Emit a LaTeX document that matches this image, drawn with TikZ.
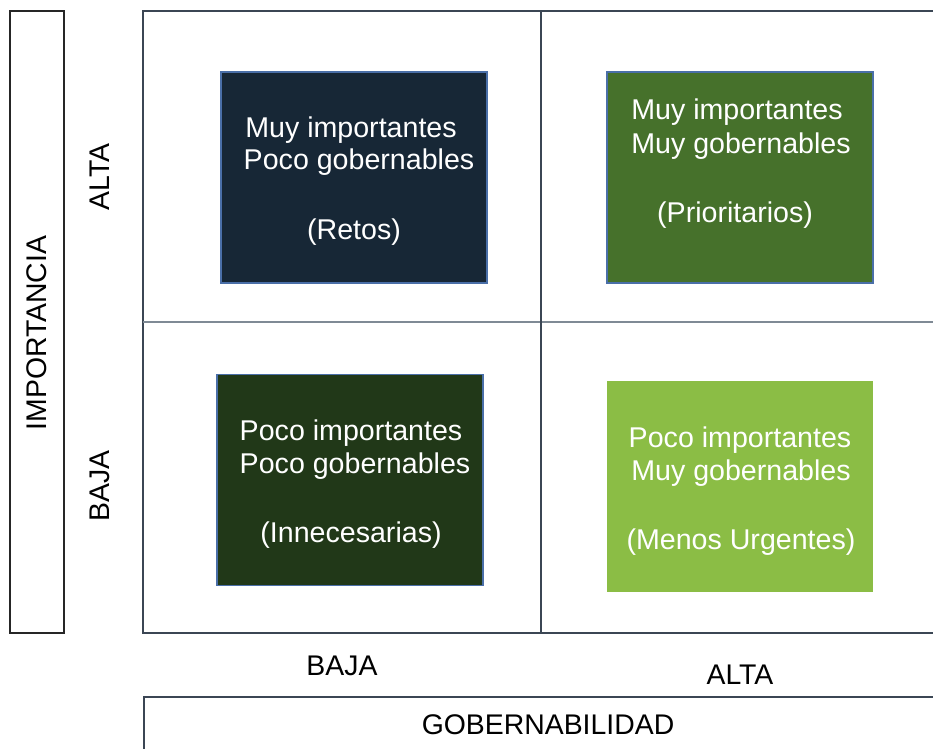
\documentclass[tikz,border=0pt]{standalone}
\usepackage{fontspec}
\setmainfont{Liberation Sans}
\definecolor{retos}{HTML}{172736}
\definecolor{prior}{HTML}{46712B}
\definecolor{innec}{HTML}{213818}
\definecolor{menos}{HTML}{8BBD45}
\definecolor{bboxline}{HTML}{4A6FA8}
\definecolor{gridline}{HTML}{3B4654}
\definecolor{midh}{HTML}{7F8A95}
\begin{document}
\begin{tikzpicture}[x=1pt,y=-1pt,
  lbl/.style={font=\fontsize{28.4}{32}\selectfont, text=black, inner sep=0pt},
  qtext/.style={font=\fontsize{28.6}{33}\selectfont, text=white, align=center, inner sep=0pt},
  quad/.style={draw=bboxline, line width=1.2pt, inner sep=0pt, minimum width=266pt, minimum height=211pt},
  frame/.style={draw=gridline, line width=1.3pt}]
\useasboundingbox (0,0) rectangle (933,748);
% outer axis boxes
\draw[draw=black!85, line width=2pt] (10,11) rectangle (64,633);
\draw[frame] (144,760) -- (144,697) -- (940,697);
% grid
\draw[frame] (940,11) -- (143,11) -- (143,633) -- (940,633);
\coordinate (vt) at (541,11);
\coordinate (vb) at (541,633);
\coordinate (hl) at (143,322);
\coordinate (hr) at (940,322);
\draw[draw=midh, line width=1.2pt] (hl) -- (hr);
\draw[draw=gridline, line width=1.2pt] (vt) -- (vb);
% quadrants
\node[quad, fill=retos] (retos) at (354,177.5) {};
\node[quad, fill=prior] (prior) at (740,177.5) {};
\node[quad, fill=innec] (innec) at (350,480) {};
\node[quad, draw=none, fill=menos] (menos) at (740,486) {};
\node[qtext, anchor=base] (r1) at (351,137) {Muy importantes};
\node[qtext, anchor=base] (r2) at (359,169) {Poco gobernables};
\node[qtext, anchor=base] (r3) at (354,239) {(Retos)};
\node[qtext, anchor=base] (p1) at (737,119) {Muy importantes};
\node[qtext, anchor=base] (p2) at (741,153) {Muy gobernables};
\node[qtext, anchor=base] (p3) at (735,222) {(Prioritarios)};
\node[qtext, anchor=base] (i1) at (351,440) {Poco importantes};
\node[qtext, anchor=base] (i2) at (355,473) {Poco gobernables};
\node[qtext, anchor=base] (i3) at (351,542) {(Innecesarias)};
\node[qtext, anchor=base] (m1) at (740,447) {Poco importantes};
\node[qtext, anchor=base] (m2) at (741,480) {Muy gobernables};
\node[qtext, anchor=base] (m3) at (741,549) {(Menos Urgentes)};
% axis labels
\node[lbl, rotate=90] (imp) at (37,333) {IMPORTANCIA};
\node[lbl, rotate=90] (ialta) at (100,177) {ALTA};
\node[lbl, rotate=90] (ibaja) at (100,486) {BAJA};
\node[lbl] (gbaja) at (342,666) {BAJA};
\node[lbl] (galta) at (740,675) {ALTA};
\node[lbl] (gob) at (548,725) {GOBERNABILIDAD};
\end{tikzpicture}
\end{document}
